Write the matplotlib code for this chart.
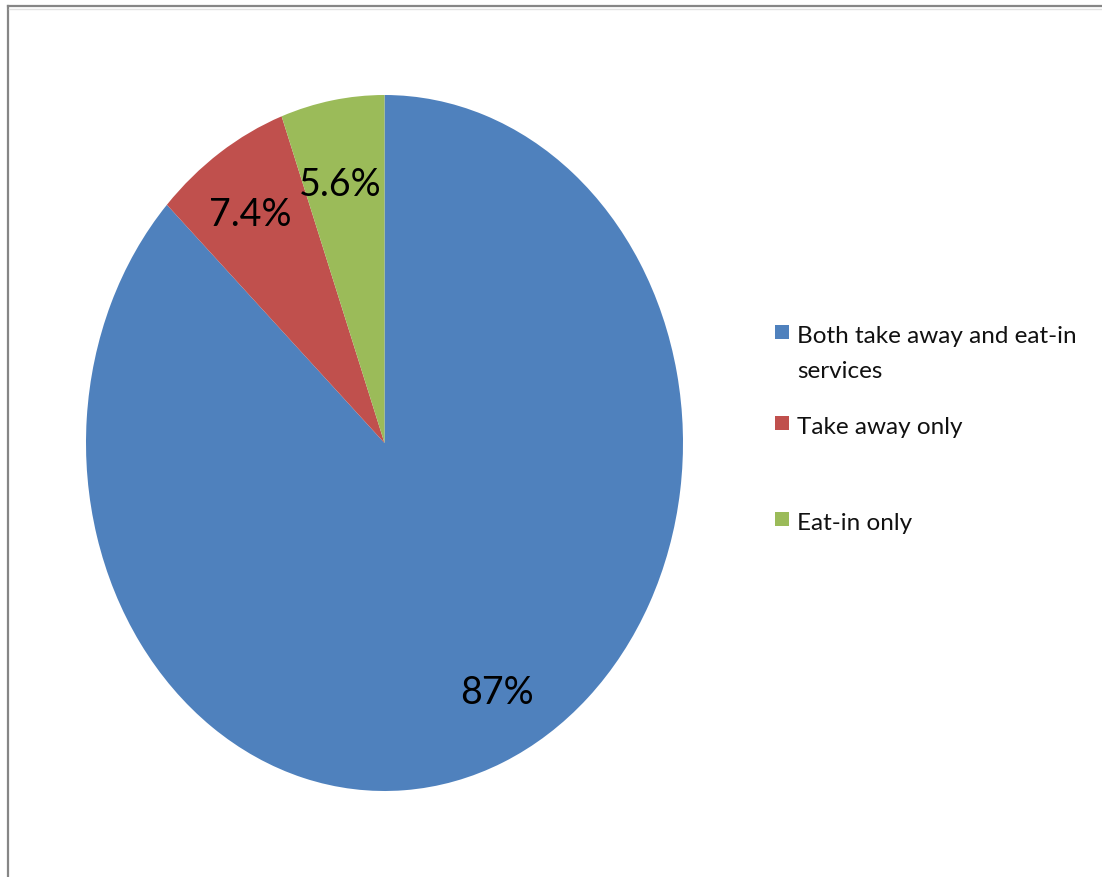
import matplotlib.pyplot as plt
from matplotlib.lines import Line2D
from matplotlib.patches import Rectangle
from matplotlib.transforms import offset_copy

categories = ['Both take away and eat-in\nservices', 'Take away only', 'Eat-in only']
shares = [87, 7.4, 5.6]
colors = ['#4F81BD', '#C0504D', '#9BBB59']

plt.rcParams['font.family'] = ['Lato', 'DejaVu Sans']

W, H = 1102, 878
fig = plt.figure(figsize=(W / 100, H / 100), dpi=100)

# pie sits in a vertically stretched box, so it draws as an ellipse
ax = fig.add_axes([86 / W, (H - 792) / H, 597 / W, 696 / H])
labels = [f'{v:g}%' for v in shares]
wedges, texts = ax.pie(shares, colors=colors, startangle=90, counterclock=False,
                       labels=labels, labeldistance=0.78, radius=1.0,
                       textprops={'fontsize': 27, 'color': 'black'})
# small nudges (pixels) to sit the labels where Excel's best-fit puts them
nudges = [(20, 0), (-6, 3), (-4, -8)]
for t, (dx, dy) in zip(texts, nudges):
    t.set_ha('center')
    t.set_va('center')
    t.set_transform(offset_copy(ax.transData, fig=fig, x=dx, y=dy, units='dots'))
ax.set_aspect('auto')
ax.set_xlim(-1, 1)
ax.set_ylim(-1, 1)
ax.axis('off')

# legend drawn by hand: Excel-style spacing with a wrapped first entry
sq = 14
rows_y = [333, 424, 520]
for cat, c, y in zip(categories, colors, rows_y):
    fig.add_artist(Rectangle((775 / W, (H - y - sq / 2) / H), sq / W, sq / H,
                             transform=fig.transFigure, facecolor=c, edgecolor='none'))
    fig.text(797 / W, (H - y + 7) / H, cat, fontsize=17.5, ha='left', va='top',
             linespacing=1.8, color='#111111')

# chart frame, only left and top edges are in view
fig.add_artist(Line2D([8 / W, 8 / W], [0, (H - 7) / H], transform=fig.transFigure,
                      color='#868686', lw=1.6))
fig.add_artist(Line2D([8 / W, 1], [(H - 7) / H, (H - 7) / H], transform=fig.transFigure,
                      color='#868686', lw=1.6))
fig.add_artist(Line2D([9 / W, 1], [(H - 9.5) / H, (H - 9.5) / H], transform=fig.transFigure,
                      color='#e2e2e2', lw=1.0))

fig.savefig('out.png', dpi=100)
